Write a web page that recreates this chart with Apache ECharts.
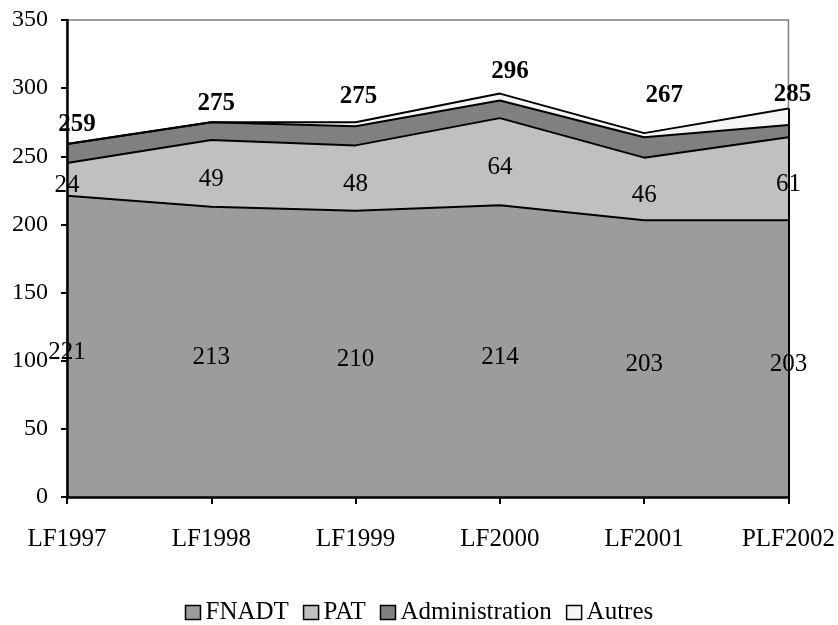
<!DOCTYPE html>
<html>
<head>
<meta charset="utf-8">
<script src="https://cdn.jsdelivr.net/npm/echarts@6/dist/echarts.min.js"></script>
<style>
  html, body { margin: 0; padding: 0; background: #fff; }
  #chart { width: 838px; height: 625px; }
</style>
</head>
<body>
<div id="chart"></div>
<script>
// Budget lines per finance law (stacked areas)
var categories = ['LF1997', 'LF1998', 'LF1999', 'LF2000', 'LF2001', 'PLF2002'];
var fnadt = [221, 213, 210, 214, 203, 203];
var pat = [24, 49, 48, 64, 46, 61];
var administration = [14, 13, 14, 13, 15, 9];
var autres = [0, 0, 3, 5, 3, 12];
var yTicks = { min: 0, max: 350, step: 50 };

// placement tweaks for the bold total labels: [dx, dy] in px from the top of the stack
var totalLabelShift = [[10, -19], [5, -19], [3, -26], [10, -22], [20, -38], [4, -14]];

var FONT = '"Liberation Serif", "Times New Roman", serif';

var totals = categories.map(function (c, i) {
  return fnadt[i] + pat[i] + administration[i] + autres[i];
});

var zeros = categories.map(function () { return 0; });
var lastIdx = categories.length - 1;

// value labels sit in the middle of their band
function midLabels(values, base) {
  return values.map(function (v, i) {
    return { coord: [i, base[i] + v / 2], value: v };
  });
}

var markLabelStyle = {
  show: true,
  position: 'inside',
  offset: [0, 6],
  color: '#000',
  fontFamily: FONT,
  fontSize: 25,
  formatter: function (p) { return String(p.value); }
};

function areaSeries(name, values, color, extra) {
  var s = {
    name: name,
    type: 'line',
    stack: 'total',
    data: values,
    color: color,
    symbol: 'none',
    showSymbol: false,
    silent: true,
    animation: false,
    z: 2,
    lineStyle: { color: '#000', width: 2 },
    itemStyle: { color: color },
    areaStyle: { color: color, opacity: 1 }
  };
  for (var k in extra) s[k] = extra[k];
  return s;
}

var option = {
  animation: false,
  backgroundColor: '#fff',
  grid: {
    left: 67, right: 46, top: 20, bottom: 128,
    show: true,
    borderColor: '#808080',
    borderWidth: 1.5,
    backgroundColor: 'transparent'
  },
  xAxis: {
    type: 'category',
    data: categories,
    boundaryGap: false,
    z: 5,
    axisLine: { lineStyle: { color: '#000', width: 2.5 } },
    axisTick: { show: true, alignWithLabel: true, length: 7, lineStyle: { color: '#000', width: 2 } },
    axisLabel: { color: '#000', fontFamily: FONT, fontSize: 25, margin: 30 },
    splitLine: { show: false }
  },
  yAxis: {
    type: 'value',
    min: yTicks.min,
    max: yTicks.max,
    interval: yTicks.step,
    z: 5,
    axisLine: { show: true, lineStyle: { color: '#000', width: 2.5 } },
    axisTick: { show: true, length: 6, lineStyle: { color: '#000', width: 2 } },
    axisLabel: { color: '#000', fontFamily: FONT, fontSize: 24, margin: 19 },
    splitLine: { show: false }
  },
  legend: {
    bottom: -5,
    left: 'center',
    icon: 'rect',
    itemWidth: 15,
    itemHeight: 14,
    itemGap: 14,
    itemStyle: { borderColor: '#000', borderWidth: 1.5 },
    textStyle: { color: '#000', fontFamily: FONT, fontSize: 25, padding: [0, 0, 0, 0] },
    data: ['FNADT', 'PAT', 'Administration', 'Autres']
  },
  series: [
    areaSeries('FNADT', fnadt, '#9c9c9c', {
      markPoint: {
        symbol: 'circle', symbolSize: 0, silent: true, animation: false,
        label: markLabelStyle,
        data: midLabels(fnadt, zeros)
      }
    }),
    areaSeries('PAT', pat, '#c0c0c0', {
      markPoint: {
        symbol: 'circle', symbolSize: 0, silent: true, animation: false,
        label: markLabelStyle,
        data: midLabels(pat, fnadt)
      }
    }),
    areaSeries('Administration', administration, '#808080', {}),
    areaSeries('Autres', autres, '#f5f5f5', {
      // closing edge of the stacked areas at the last category
      markLine: {
        silent: true, animation: false, symbol: 'none',
        label: { show: false },
        lineStyle: { color: '#000', width: 2, type: 'solid' },
        data: [[{ coord: [lastIdx, 0] }, { coord: [lastIdx, totals[lastIdx]] }]]
      },
      markPoint: {
        symbol: 'circle', symbolSize: 0, silent: true, animation: false,
        label: {
          show: true,
          position: 'inside',
          color: '#000',
          fontFamily: FONT,
          fontSize: 25,
          fontWeight: 'bold',
          formatter: function (p) { return String(p.value); }
        },
        data: totals.map(function (t, i) {
          return {
            coord: [i, t],
            value: t,
            label: { offset: totalLabelShift[i] }
          };
        })
      }
    })
  ]
};

var chart = echarts.init(document.getElementById('chart'), null, { renderer: 'canvas' });
chart.setOption(option);
</script>
</body>
</html>
